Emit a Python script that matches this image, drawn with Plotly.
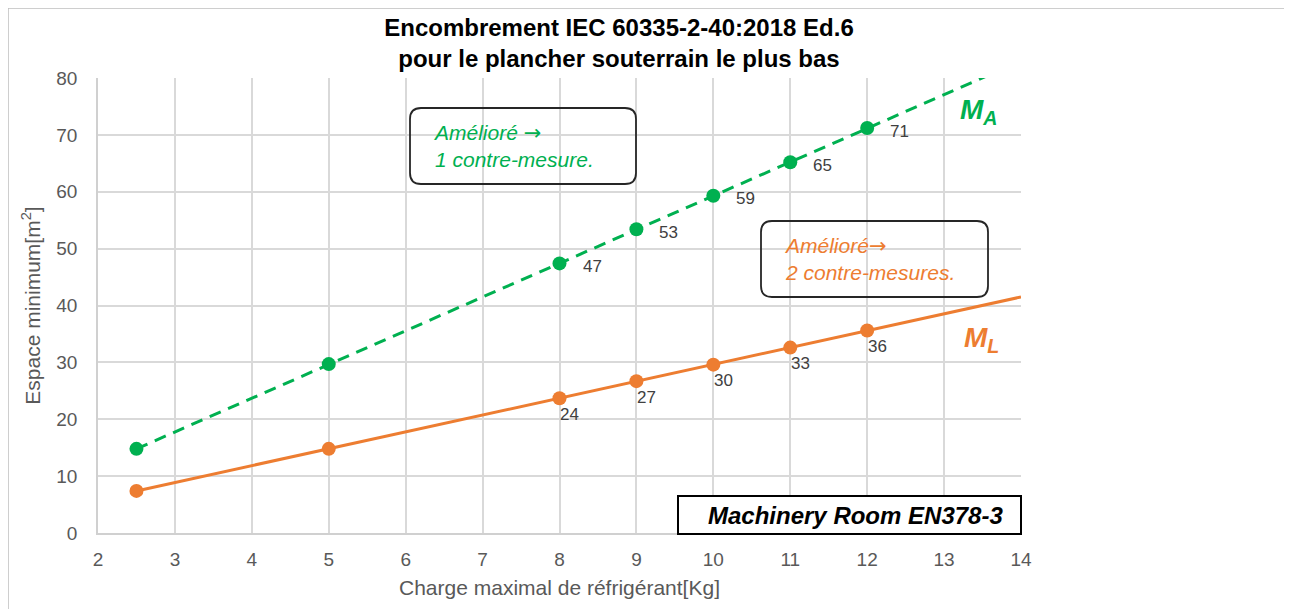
import plotly.graph_objects as go

# ---- data ----
charge = [2.5, 5, 8, 9, 10, 11, 12]
ma_values = [14.8, 29.7, 47.4, 53.4, 59.3, 65.2, 71.2]
ml_values = [7.4, 14.8, 23.7, 26.7, 29.6, 32.6, 35.6]
ma_labels = ["", "", "47", "53", "59", "65", "71"]
ml_labels = ["", "", "24", "27", "30", "33", "36"]
trend_x = [2.5, 14]
ma_trend = [14.8, 83.0]
ml_trend = [7.4, 41.5]
x_ticks = list(range(2, 15))
y_ticks = list(range(0, 81, 10))

GREEN = "#00b050"
ORANGE = "#ed7d31"
FONT = "Liberation Sans, Arial, sans-serif"
ARROW = '<span style="font-family:DejaVu Sans">→</span>'

OFF = 8  # page body margin
WIN_W, WIN_H = 1292, 609
W, H = WIN_W - OFF, WIN_H - OFF
# plot area in window pixels
PX0, PX1, PY0, PY1 = 98, 1021, 78, 533
L, R, T, B = PX0 - OFF, W - (PX1 - OFF), PY0 - OFF, H - (PY1 - OFF)
PW, PH = PX1 - PX0, PY1 - PY0


def px_to_paper(x, y):
    return (x - PX0) / PW, (PY1 - y) / PH


def rounded_rect(x0, y0, x1, y1, r):
    def p(x, y):
        a, b = px_to_paper(x, y)
        return f"{a:.5f},{b:.5f}"
    return (f"M {p(x0 + r, y0)} L {p(x1 - r, y0)} Q {p(x1, y0)} {p(x1, y0 + r)} "
            f"L {p(x1, y1 - r)} Q {p(x1, y1)} {p(x1 - r, y1)} "
            f"L {p(x0 + r, y1)} Q {p(x0, y1)} {p(x0, y1 - r)} "
            f"L {p(x0, y0 + r)} Q {p(x0, y0)} {p(x0 + r, y0)} Z")


fig = go.Figure()

fig.add_trace(go.Scatter(x=trend_x, y=ma_trend, mode="lines",
                         line=dict(color=GREEN, width=3, dash="12px,8px"),
                         hoverinfo="skip", showlegend=False))
fig.add_trace(go.Scatter(x=trend_x, y=ml_trend, mode="lines",
                         line=dict(color=ORANGE, width=3),
                         hoverinfo="skip", showlegend=False))
fig.add_trace(go.Scatter(x=charge, y=ma_values, mode="markers",
                         marker=dict(color=GREEN, size=14), name="M_A",
                         showlegend=False))
fig.add_trace(go.Scatter(x=charge, y=ml_values, mode="markers",
                         marker=dict(color=ORANGE, size=14), name="M_L",
                         showlegend=False))

annotations = []
for x, y, t in zip(charge, ma_values, ma_labels):
    if t:
        annotations.append(dict(x=x, y=y, text=t, showarrow=False, xanchor="left",
                                xshift=21, yshift=-3,
                                font=dict(family=FONT, size=17, color="#404040")))
for x, y, t in zip(charge, ml_values, ml_labels):
    if t:
        annotations.append(dict(x=x, y=y, text=t, showarrow=False, xanchor="center",
                                xshift=10, yshift=-16,
                                font=dict(family=FONT, size=17, color="#404040")))

annotations.append(dict(xref="paper", yref="paper",
                        x=px_to_paper(431, 0)[0], y=px_to_paper(0, 146)[1],
                        xanchor="left", yanchor="middle", align="left", showarrow=False,
                        text=f"<i>Amélioré {ARROW}<br>1 contre-mesure.</i>",
                        font=dict(family=FONT, size=21, color=GREEN)))
annotations.append(dict(xref="paper", yref="paper",
                        x=px_to_paper(782, 0)[0], y=px_to_paper(0, 259)[1],
                        xanchor="left", yanchor="middle", align="left", showarrow=False,
                        text=f"<i>Amélioré{ARROW}<br>2 contre-mesures.</i>",
                        font=dict(family=FONT, size=21, color=ORANGE)))
annotations.append(dict(xref="paper", yref="paper",
                        x=px_to_paper(855, 0)[0], y=px_to_paper(0, 515)[1],
                        xanchor="center", yanchor="middle", showarrow=False,
                        text="<b><i>Machinery Room EN378-3</i></b>",
                        font=dict(family=FONT, size=24, color="#000000")))
annotations.append(dict(xref="paper", yref="paper",
                        x=px_to_paper(958, 0)[0], y=px_to_paper(0, 112)[1],
                        xanchor="left", yanchor="middle", showarrow=False,
                        text="<b><i>M<sub>A</sub></i></b>",
                        font=dict(family=FONT, size=28, color=GREEN)))
annotations.append(dict(xref="paper", yref="paper",
                        x=px_to_paper(962, 0)[0], y=px_to_paper(0, 339)[1],
                        xanchor="left", yanchor="middle", showarrow=False,
                        text="<b><i>M<sub>L</sub></i></b>",
                        font=dict(family=FONT, size=28, color=ORANGE)))

shapes = []
fx0, fy0 = px_to_paper(8, 8)
fx1, fy1 = px_to_paper(1287, 625)
shapes.append(dict(type="rect", xref="paper", yref="paper", x0=fx0, y0=fy1, x1=fx1, y1=fy0,
                   line=dict(color="#bfbfbf", width=1.5), layer="below"))
shapes.append(dict(type="path", xref="paper", yref="paper",
                   path=rounded_rect(410, 108, 636, 184, 11),
                   line=dict(color="#262626", width=1.8), fillcolor="rgba(255,255,255,0)"))
shapes.append(dict(type="path", xref="paper", yref="paper",
                   path=rounded_rect(761, 221, 988, 297, 11),
                   line=dict(color="#262626", width=1.8), fillcolor="rgba(255,255,255,0)"))
mx0, my0 = px_to_paper(678, 496)
mx1, my1 = px_to_paper(1021, 534)
shapes.append(dict(type="rect", xref="paper", yref="paper", x0=mx0, y0=my1, x1=mx1, y1=my0,
                   line=dict(color="#000000", width=2), fillcolor="#ffffff"))

fig.update_layout(
    width=W, height=H,
    margin=dict(l=L, r=R, t=T, b=B),
    paper_bgcolor="#ffffff", plot_bgcolor="#ffffff",
    title=dict(text="<b>Encombrement IEC 60335-2-40:2018 Ed.6<br>pour le plancher souterrain le plus bas</b>",
               x=(619 - OFF) / W, xanchor="center", y=1 - (36 - OFF) / H, yanchor="middle",
               font=dict(family=FONT, size=24, color="#000000")),
    xaxis=dict(range=[2, 14], tickvals=x_ticks, showgrid=True, gridcolor="#d9d9d9", gridwidth=1.5,
               zeroline=False, showline=True, linecolor="#d0d0d0", linewidth=1.5,
               ticks="", ticklabelstandoff=8,
               tickfont=dict(family=FONT, size=19, color="#595959"),
               title=dict(text="Charge maximal de réfrigérant[Kg]", standoff=12,
                          font=dict(family=FONT, size=21, color="#595959"))),
    yaxis=dict(range=[0, 80], tickvals=y_ticks, showgrid=True, gridcolor="#d9d9d9", gridwidth=1.5,
               zeroline=False, showline=True, linecolor="#d0d0d0", linewidth=1.5,
               ticks="", ticklabelstandoff=15,
               tickfont=dict(family=FONT, size=19, color="#595959"),
               title=dict(text="Espace minimum[m<sup>2</sup>]", standoff=10,
                          font=dict(family=FONT, size=21, color="#595959"))),
    annotations=annotations,
    shapes=shapes,
    showlegend=False,
)

fig.write_html("out.html")
